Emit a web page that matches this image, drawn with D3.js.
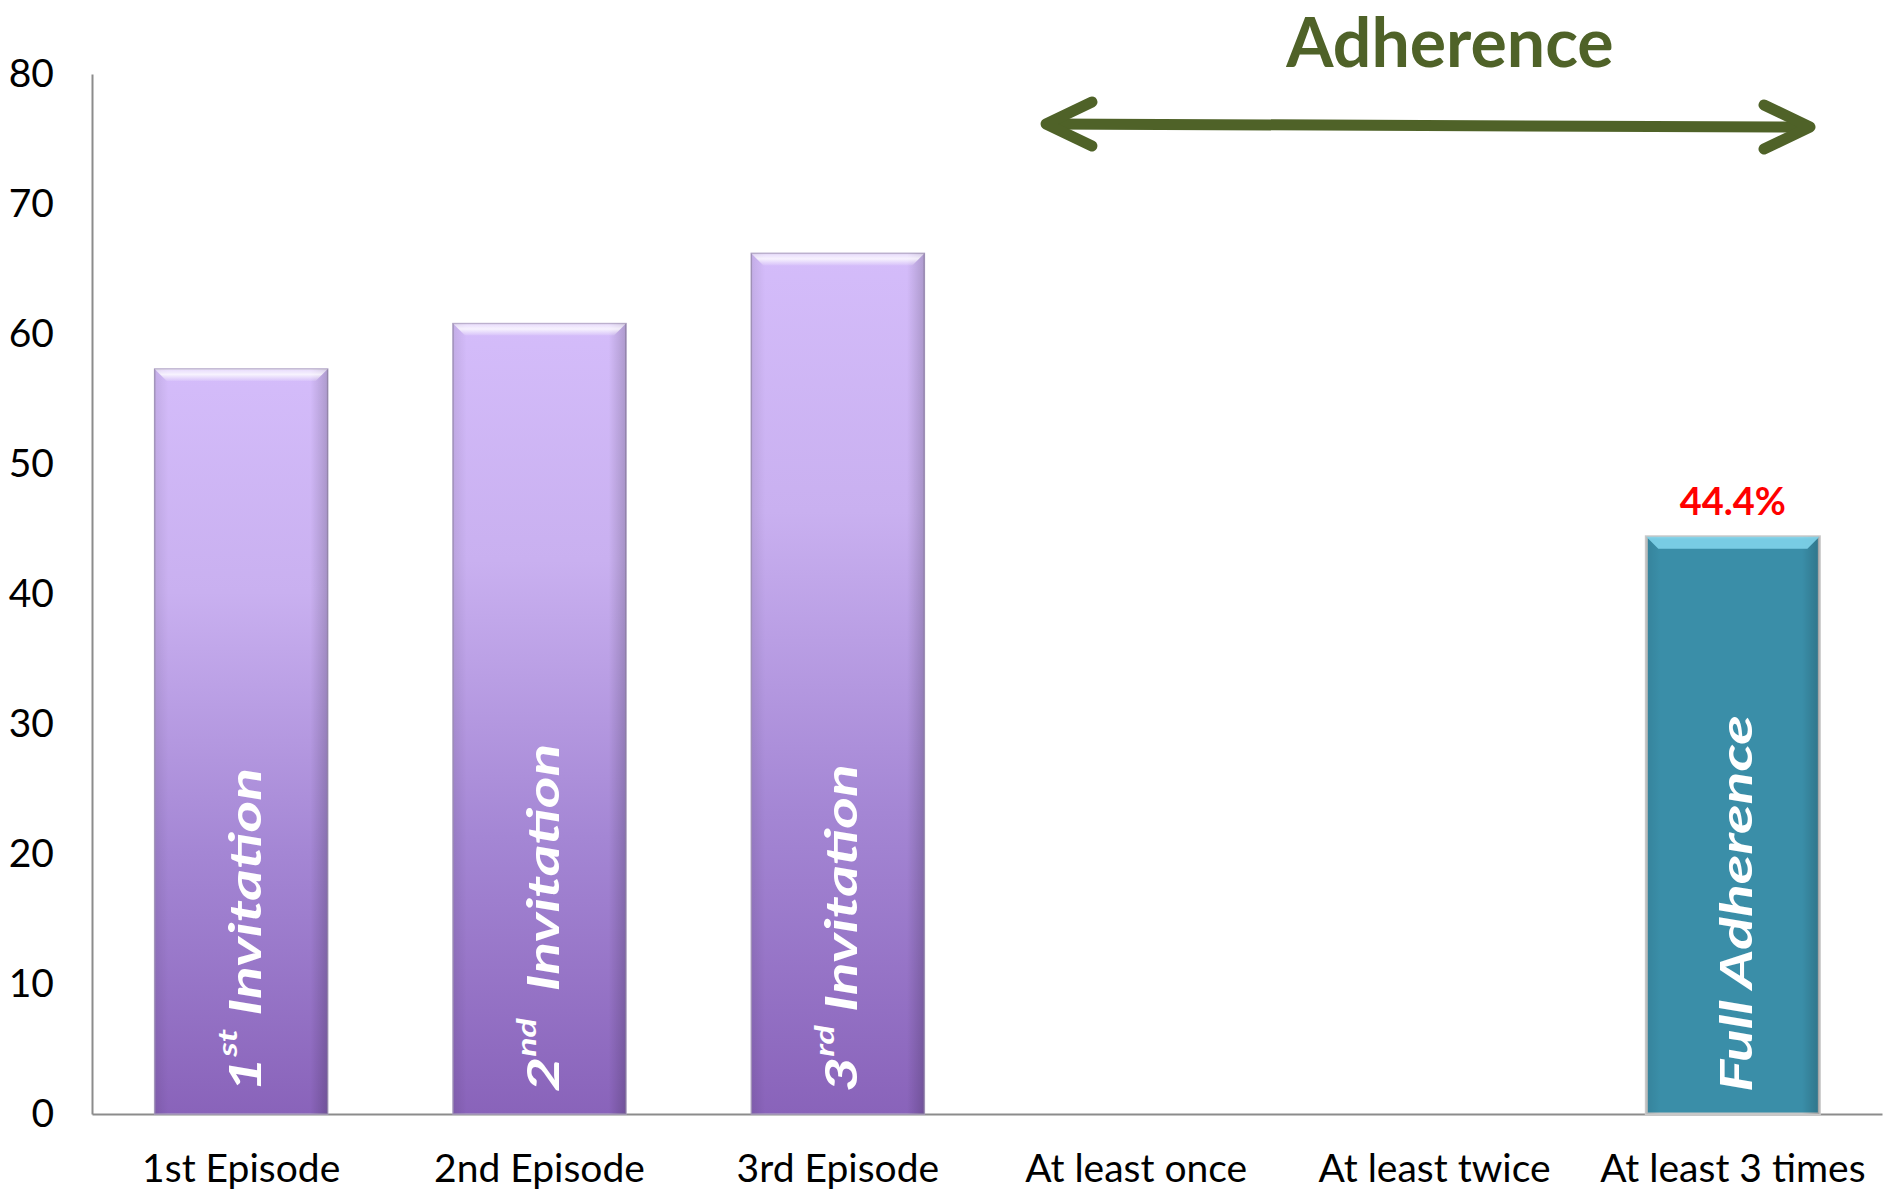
<!DOCTYPE html>
<html lang="en">
  <head>
    <meta charset="UTF-8" />
    <title>Adherence</title>
    <style>
      body { margin: 0; background: #fff; }
      .chart text { font-family: Lato, "Open Sans", sans-serif; }
    </style>
  </head>
  <body>
    <div class="chart"></div>
    <script src="https://d3js.org/d3.v7.min.js"></script>
    <script>
      const categories = ["1st Episode", "2nd Episode", "3rd Episode", "At least once", "At least twice", "At least 3 times"];
      const values = [57.3, 60.8, 66.2, null, null, 44.4];
      const barKinds = ["invite", "invite", "invite", null, null, "full"];
      const barLabelMain = ["1", "2", "3", null, null, "Full Adherence"];
      const barLabelSup = ["st", "nd", "rd", null, null, ""];
      const barLabelTail = [" Invitation", "  Invitation", " Invitation", null, null, ""];
      const valueLabels = [null, null, null, null, null, "44.4%"];
      const yTicks = [0, 10, 20, 30, 40, 50, 60, 70, 80];

      const width = 1884;
      const height = 1189;
      const margin = { left: 92, right: 2, top: 74, bottom: 75 };

      const svg = d3
        .select(".chart")
        .append("svg")
        .attr("width", width)
        .attr("height", height);

      const defs = svg.append("defs");

      // 紫色漸層
      const purple = defs.append("linearGradient").attr("id", "purple")
        .attr("x1", 0).attr("y1", 0).attr("x2", 0).attr("y2", 1);
      purple.append("stop").attr("offset", "0%").attr("stop-color", "#d4bcfa");
      purple.append("stop").attr("offset", "30%").attr("stop-color", "#c9b0f0");
      purple.append("stop").attr("offset", "65%").attr("stop-color", "#a486d4");
      purple.append("stop").attr("offset", "100%").attr("stop-color", "#8963ba");

      const sideShade = defs.append("linearGradient").attr("id", "side")
        .attr("x1", 0).attr("y1", 0).attr("x2", 1).attr("y2", 0);
      sideShade.append("stop").attr("offset", "0%").attr("stop-color", "#000").attr("stop-opacity", 0.08);
      sideShade.append("stop").attr("offset", "8%").attr("stop-color", "#000").attr("stop-opacity", 0);
      sideShade.append("stop").attr("offset", "90%").attr("stop-color", "#000").attr("stop-opacity", 0);
      sideShade.append("stop").attr("offset", "100%").attr("stop-color", "#000").attr("stop-opacity", 0.18);

      const topShine = defs.append("linearGradient").attr("id", "shine")
        .attr("x1", 0).attr("y1", 0).attr("x2", 0).attr("y2", 1);
      topShine.append("stop").attr("offset", "0%").attr("stop-color", "#fff").attr("stop-opacity", 0.5);
      topShine.append("stop").attr("offset", "45%").attr("stop-color", "#fff").attr("stop-opacity", 0.9);
      topShine.append("stop").attr("offset", "100%").attr("stop-color", "#fff").attr("stop-opacity", 0.1);

      const x = d3
        .scaleBand()
        .domain(categories)
        .range([margin.left, width - margin.right])
        .paddingInner(0.42)
        .paddingOuter(0.21);

      const y = d3
        .scaleLinear()
        .domain([0, 80])
        .range([height - margin.bottom, margin.top]);

      // 座標軸
      const yAxis = d3.axisLeft(y).tickValues(yTicks).tickSize(0).tickPadding(38);
      const gy = svg.append("g").attr("transform", `translate(${margin.left},0)`).call(yAxis);
      gy.select(".domain").attr("stroke", "#8c8c8c").attr("stroke-width", 2);
      gy.selectAll("text")
        .style("font-size", "39px")
        .attr("fill", "#000")
        .attr("font-family", "Lato, sans-serif");

      const xAxis = d3.axisBottom(x).tickSize(0).tickPadding(40);
      const gx = svg.append("g").attr("transform", `translate(0,${y(0)})`).call(xAxis);
      gx.select(".domain").attr("stroke", "#8c8c8c").attr("stroke-width", 2);
      gx.selectAll("text")
        .style("font-size", "39px")
        .attr("fill", "#000")
        .attr("font-family", "Lato, sans-serif");

      // 長條
      const data = categories
        .map((c, i) => ({ c, v: values[i], kind: barKinds[i], main: barLabelMain[i], sup: barLabelSup[i], tail: barLabelTail[i], vl: valueLabels[i] }))
        .filter((d) => d.v != null);

      const bars = svg.append("g").selectAll("g").data(data).join("g");
      const bw = x.bandwidth();
      const bev = 12;

      bars.append("rect")
        .attr("x", (d) => x(d.c))
        .attr("y", (d) => y(d.v))
        .attr("width", bw)
        .attr("height", (d) => y(0) - y(d.v))
        .attr("fill", (d) => (d.kind === "invite" ? "url(#purple)" : "#3a8ea8"))
        .attr("stroke", (d) => (d.kind === "invite" ? "#a899c0" : "#c8c8c8"))
        .attr("stroke-width", (d) => (d.kind === "invite" ? 1.5 : 3));

      bars.append("rect")
        .attr("x", (d) => x(d.c))
        .attr("y", (d) => y(d.v))
        .attr("width", bw)
        .attr("height", (d) => y(0) - y(d.v))
        .attr("fill", "url(#side)");

      // 上緣斜角亮光
      bars.append("polygon")
        .attr("points", (d) => {
          const x0 = x(d.c), y0 = y(d.v);
          return [[x0, y0], [x0 + bw, y0], [x0 + bw - bev, y0 + bev], [x0 + bev, y0 + bev]].join(" ");
        })
        .attr("fill", (d) => (d.kind === "invite" ? "url(#shine)" : "#7fd3ea"))
        .attr("opacity", 0.9);

      // 長條內文字（橫向拉長）
      const inner = bars.append("text")
        .attr("transform", (d) => `translate(${x(d.c) + bw / 2 + 2},${y(0) - 22}) rotate(-90) scale(1.38,1)`)
        .attr("dominant-baseline", "central")
        .attr("fill", "#fff")
        .style("font-size", "44px")
        .style("font-weight", "bold")
        .style("font-style", "italic");
      inner.append("tspan").text((d) => d.main);
      inner.append("tspan")
        .attr("baseline-shift", "super")
        .style("font-size", "26px")
        .text((d) => d.sup);
      inner.append("tspan").style("white-space", "pre").text((d) => d.tail);

      // 數值標籤
      bars.filter((d) => d.vl)
        .append("text")
        .attr("x", (d) => x(d.c) + bw / 2)
        .attr("y", (d) => y(d.v) - 22)
        .attr("text-anchor", "middle")
        .attr("fill", "#ff0000")
        .style("font-size", "38px")
        .style("font-weight", "bold")
        .text((d) => d.vl);

      // Adherence 標題與雙向箭頭
      const green = "#4f6228";
      svg.append("text")
        .attr("x", 1450)
        .attr("y", 67)
        .attr("text-anchor", "middle")
        .attr("fill", green)
        .style("font-size", "68px")
        .style("font-weight", "bold")
        .text("Adherence");

      const ax0 = 1046, ay0 = 124, ax1 = 1810, ay1 = 127;
      const arrow = svg.append("g")
        .attr("stroke", green)
        .attr("stroke-width", 11)
        .attr("stroke-linecap", "round")
        .attr("stroke-linejoin", "round")
        .attr("fill", "none");
      arrow.append("line").attr("x1", ax0 + 4).attr("y1", ay0).attr("x2", ax1 - 4).attr("y2", ay1);
      arrow.append("polyline").attr("points", [[ax0 + 46, ay0 - 22], [ax0, ay0], [ax0 + 46, ay0 + 22]].join(" "));
      arrow.append("polyline").attr("points", [[ax1 - 46, ay1 - 22], [ax1, ay1], [ax1 - 46, ay1 + 22]].join(" "));
    </script>
  </body>
</html>
